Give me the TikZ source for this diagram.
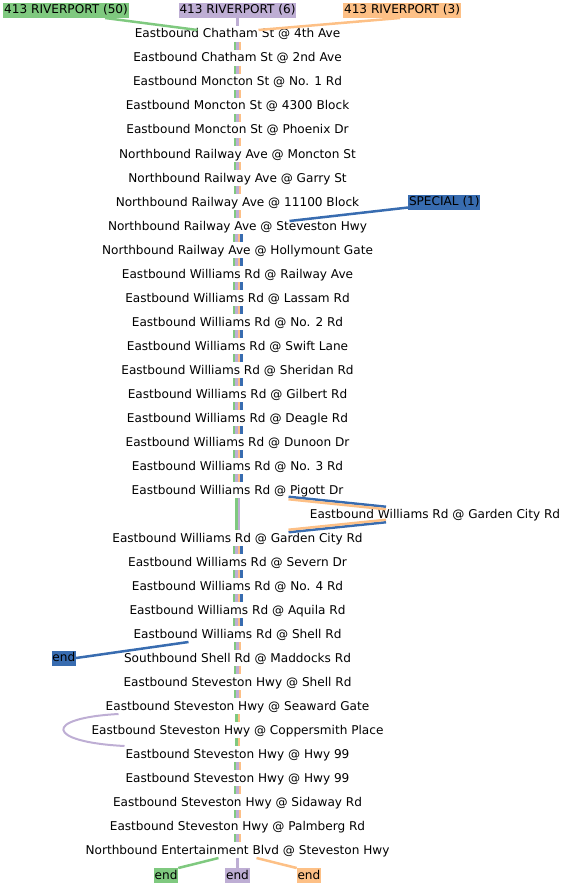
\documentclass[tikz,border=0pt]{standalone}
\usepackage{fontspec}
\setmainfont{DejaVu Sans}
\usetikzlibrary{positioning}
\definecolor{cg}{HTML}{7FC97F}
\definecolor{cp}{HTML}{BEAED4}
\definecolor{co}{HTML}{FDC086}
\definecolor{cb}{HTML}{386CB0}

\begin{document}
\begin{tikzpicture}[x=1pt, y=-1pt,
  node distance=8pt,
  every node/.style={outer sep=0pt},
  stop/.style={inner xsep=0pt, inner ysep=2pt, text height=10pt, text depth=2pt,
               font=\fontsize{12.1}{14}\selectfont},
  tag/.style={inner xsep=0.8pt, inner ysep=1pt, text height=10pt, text depth=3pt,
              font=\fontsize{12.1}{14}\selectfont},
  route/.style={line width=2.5pt}
]
\useasboundingbox (0,0) rectangle (566,888);
% stops
\node[stop] at (237.5,34) (s1) {Eastbound Chatham St @ 4th Ave};
\node[stop, below=of s1] (s2) {Eastbound Chatham St @ 2nd Ave};
\node[stop, below=of s2] (s3) {Eastbound Moncton St @ No. 1 Rd};
\node[stop, below=of s3] (s4) {Eastbound Moncton St @ 4300 Block};
\node[stop, below=of s4] (s5) {Eastbound Moncton St @ Phoenix Dr};
\node[stop, below=of s5] (s6) {Northbound Railway Ave @ Moncton St};
\node[stop, below=of s6] (s7) {Northbound Railway Ave @ Garry St};
\node[stop, below=of s7] (s8) {Northbound Railway Ave @ 11100 Block};
\node[stop, below=of s8] (s9) {Northbound Railway Ave @ Steveston Hwy};
\node[stop, below=of s9] (s10) {Northbound Railway Ave @ Hollymount Gate};
\node[stop, below=of s10] (s11) {Eastbound Williams Rd @ Railway Ave};
\node[stop, below=of s11] (s12) {Eastbound Williams Rd @ Lassam Rd};
\node[stop, below=of s12] (s13) {Eastbound Williams Rd @ No. 2 Rd};
\node[stop, below=of s13] (s14) {Eastbound Williams Rd @ Swift Lane};
\node[stop, below=of s14] (s15) {Eastbound Williams Rd @ Sheridan Rd};
\node[stop, below=of s15] (s16) {Eastbound Williams Rd @ Gilbert Rd};
\node[stop, below=of s16] (s17) {Eastbound Williams Rd @ Deagle Rd};
\node[stop, below=of s17] (s18) {Eastbound Williams Rd @ Dunoon Dr};
\node[stop, below=of s18] (s19) {Eastbound Williams Rd @ No. 3 Rd};
\node[stop, below=of s19] (s20) {Eastbound Williams Rd @ Pigott Dr};
\node[stop] at (435,514) (s21) {Eastbound Williams Rd @ Garden City Rd};
\node[stop, below=32pt of s20] (s22) {Eastbound Williams Rd @ Garden City Rd};
\node[stop, below=of s22] (s23) {Eastbound Williams Rd @ Severn Dr};
\node[stop, below=of s23] (s24) {Eastbound Williams Rd @ No. 4 Rd};
\node[stop, below=of s24] (s25) {Eastbound Williams Rd @ Aquila Rd};
\node[stop, below=of s25] (s26) {Eastbound Williams Rd @ Shell Rd};
\node[stop, below=of s26] (s27) {Southbound Shell Rd @ Maddocks Rd};
\node[stop, below=of s27] (s28) {Eastbound Steveston Hwy @ Shell Rd};
\node[stop, below=of s28] (s29) {Eastbound Steveston Hwy @ Seaward Gate};
\node[stop, below=of s29] (s30) {Eastbound Steveston Hwy @ Coppersmith Place};
\node[stop, below=of s30] (s31) {Eastbound Steveston Hwy @ Hwy 99};
\node[stop, below=of s31] (s32) {Eastbound Steveston Hwy @ Hwy 99};
\node[stop, below=of s32] (s33) {Eastbound Steveston Hwy @ Sidaway Rd};
\node[stop, below=of s33] (s34) {Eastbound Steveston Hwy @ Palmberg Rd};
\node[stop, below=of s34] (s35) {Northbound Entertainment Blvd @ Steveston Hwy};
% route tags
\node[tag, fill=cp, above=8pt of s1] (p6) {413 RIVERPORT (6)};
\node[tag, fill=cg, left=50pt of p6] (g50) {413 RIVERPORT (50)};
\node[tag, fill=co, right=47pt of p6] (o3) {413 RIVERPORT (3)};
\node[tag, fill=cb, right=49pt of s8] (sp) {SPECIAL (1)};
\node[tag, fill=cb, left=48pt of s27] (eb) {end};
\node[tag, fill=cp, below=10pt of s35] (pe) {end};
\node[tag, fill=cg, left=47pt of pe] (ge) {end};
\node[tag, fill=co, right=47pt of pe] (oe) {end};
% into the first stop
\draw[route, cg] ([xshift=39pt]g50.south) -- ([shift={(-40pt,-4pt)}]s1.north);
\draw[route, cp] (p6) -- (s1);
\draw[route, co] ([xshift=-2pt]o3.south) -- ([shift={(21pt,-4pt)}]s1.north);
\draw[route, cb] ([yshift=2pt]sp.south west) -- ([shift={(52pt,-3pt)}]s9.north);
% bundles
\foreach \u/\v in {s1/s2,s2/s3,s3/s4,s4/s5,s5/s6,s6/s7,s7/s8,s8/s9,s26/s27,s27/s28,
                   s28/s29,s31/s32,s32/s33,s33/s34,s34/s35}
  \foreach \c/\o in {cg/-2.5,cp/0,co/2.5}
    \draw[route, draw=\c] ([xshift=\o pt]\u.south) -- ([xshift=\o pt]\v.north);
\foreach \u/\v in {s9/s10,s10/s11,s11/s12,s12/s13,s13/s14,s14/s15,s15/s16,s16/s17,
                   s17/s18,s18/s19,s19/s20,s22/s23,s23/s24,s24/s25,s25/s26}
  \foreach \c/\o in {cg/-3.75,cp/-1.25,co/1.25,cb/3.75}
    \draw[route, draw=\c] ([xshift=\o pt]\u.south) -- ([xshift=\o pt]\v.north);
\foreach \c/\o in {cg/-1.25,cp/1.25}
  \draw[route, draw=\c] ([xshift=\o pt]s20.south) -- ([xshift=\o pt]s22.north);
\foreach \u/\v in {s29/s30,s30/s31}
  \foreach \c/\o in {cg/-1.25,co/1.25}
    \draw[route, draw=\c] ([xshift=\o pt]\u.south) -- ([xshift=\o pt]\v.north);
% detour by the second Garden City stop
\foreach \c/\d in {cb/1.25,co/-1.25} {
  \draw[route, draw=\c] ([shift={(51pt,\d pt)}]s20.south) -- ([shift={(-49pt,\d pt-2pt)}]s21.north);
  \draw[route, draw=\c] ([shift={(-49pt,1pt-\d pt)}]s21.south) -- ([shift={(51pt,-1pt-\d pt)}]s22.north);
}
% purple skips Coppersmith Place
\draw[route, cp, line width=2pt] ([xshift=-119pt]s29.south) .. controls +(-76,4) and +(-79,-4) .. ([xshift=-113pt]s31.north);
% ends
\draw[route, cb] ([xshift=-49pt]s26.south) -- (eb.east);
\draw[route, cg] ([xshift=-19pt]s35.south) -- (ge.north east);
\draw[route, cp] (s35) -- (pe);
\draw[route, co] ([xshift=19pt]s35.south) -- (oe.north west);
\end{tikzpicture}
\end{document}
